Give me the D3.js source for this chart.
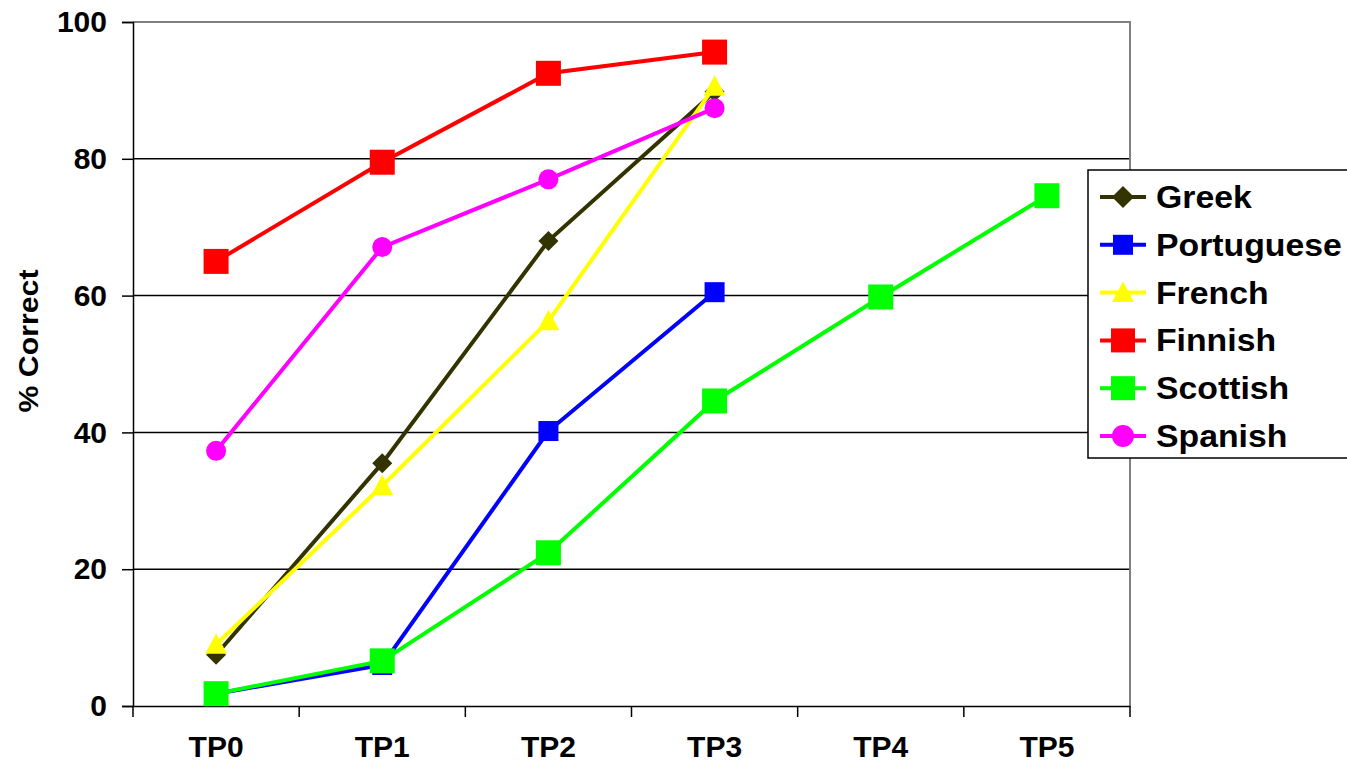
<!DOCTYPE html>
<html><head><meta charset="utf-8">
<script src="https://cdn.jsdelivr.net/npm/d3@7"></script>
<style>body{margin:0;background:#fff}svg{display:block}text{font-family:"Liberation Sans",Arial,sans-serif;font-weight:bold}</style>
</head><body>
<svg id="c" width="1347" height="764"></svg>
<script>
const categories = ["TP0","TP1","TP2","TP3","TP4","TP5"];
const yTicks = [0,20,40,60,80,100];
const seriesNames = ["Greek","Portuguese","French","Finnish","Scottish","Spanish"];
const greek = [7.5, 35.5, 68, 89.8];
const portuguese = [1.8, 6, 40.2, 60.5];
const french = [9, 32.2, 56.3, 90.6];
const finnish = [65, 79.5, 92.5, 95.6];
const scottish = [1.8, 6.6, 22.4, 44.6, 59.8, 74.6];
const spanish = [37.3, 67.1, 77, 87.4];

const seriesValues = [greek, portuguese, french, finnish, scottish, spanish];
const colors = ["#333300","#0000ff","#ffff00","#ff0000","#00ff00","#ff00ff"];
const shapes = ["diamond","square","triangle","square","square","circle"];
const sizes = [20, 20, 22, 25, 25, 20];

const svg = d3.select("#c");
const L=133, R=1130, T=22, B=706;
const x = d3.scaleBand().domain(categories).range([L,R]);
const y = d3.scaleLinear().domain([0,100]).range([B,T]);

// gridlines
svg.append("g").selectAll("line").data(yTicks.filter(d=>d>0&&d<100)).join("line")
  .attr("x1",L).attr("x2",R).attr("y1",d=>y(d)).attr("y2",d=>y(d))
  .attr("stroke","#000").attr("stroke-width",1.5);
// plot border top/right
svg.append("path").attr("d",`M${L},${T}H${R}V${B}`).attr("fill","none").attr("stroke","#808080").attr("stroke-width",2);

// y axis
const ya = svg.append("g").attr("transform",`translate(${L},0)`)
  .call(d3.axisLeft(y).tickValues(yTicks).tickSize(11).tickPadding(15));
ya.select(".domain").attr("stroke","#000").attr("stroke-width",1.5);
ya.selectAll(".tick line").attr("stroke","#000").attr("stroke-width",1.5);
ya.selectAll("text").attr("font-size",30).attr("fill","#000").attr("font-family","Liberation Sans, Arial, sans-serif").attr("font-weight","bold");

// x axis
const xa = svg.append("g").attr("transform",`translate(0,${B})`)
  .call(d3.axisBottom(x).tickSize(0).tickPadding(30));
xa.select(".domain").attr("stroke","#000").attr("stroke-width",1.5);
xa.selectAll("text").attr("font-size",30).attr("fill","#000").attr("font-family","Liberation Sans, Arial, sans-serif").attr("font-weight","bold");
const bounds = categories.map(c=>x(c)).concat([R]);
svg.append("g").selectAll("line").data(bounds).join("line")
  .attr("x1",d=>d).attr("x2",d=>d).attr("y1",B).attr("y2",B+11)
  .attr("stroke","#000").attr("stroke-width",1.5);

// y title
svg.append("text").attr("transform","translate(38,341) rotate(-90)")
  .attr("text-anchor","middle").attr("font-size",28).attr("fill","#000")
  .attr("textLength",143).attr("lengthAdjust","spacingAndGlyphs").text("% Correct");

function marker(g, shape, size, color){
  const h=size/2;
  if(shape==="square") g.append("rect").attr("x",-h).attr("y",-h).attr("width",size).attr("height",size).attr("fill",color);
  else if(shape==="diamond") g.append("path").attr("d",`M0,${-h}L${h},0L0,${h}L${-h},0Z`).attr("fill",color);
  else if(shape==="triangle") g.append("path").attr("d",`M0,${-h}L${h},${h*0.85}L${-h},${h*0.85}Z`).attr("fill",color);
  else g.append("circle").attr("r",h).attr("fill",color);
}

const line = d3.line().x((d,i)=>x(categories[i])+x.bandwidth()/2).y(d=>y(d));
seriesValues.forEach((vals,si)=>{
  const g = svg.append("g");
  g.append("path").attr("d",line(vals)).attr("fill","none").attr("stroke",colors[si]).attr("stroke-width",4);
  vals.forEach((v,i)=>{
    const m = g.append("g").attr("transform",`translate(${x(categories[i])+x.bandwidth()/2},${y(v)})`);
    marker(m, shapes[si], sizes[si], colors[si]);
  });
});

// legend
const lg = svg.append("g");
lg.append("rect").attr("x",1088).attr("y",170).attr("width",262).attr("height",288)
  .attr("fill","#fff").attr("stroke","#000").attr("stroke-width",1.5);
seriesNames.forEach((n,i)=>{
  const cy = 197 + i*47.8;
  lg.append("line").attr("x1",1100).attr("x2",1146).attr("y1",cy).attr("y2",cy).attr("stroke",colors[i]).attr("stroke-width",4);
  const m = lg.append("g").attr("transform",`translate(1123,${cy})`);
  marker(m, shapes[i], shapes[i]==="square"? (i===1?20:24) : 22, colors[i]);
  lg.append("text").attr("x",1156).attr("y",cy+11).attr("font-size",31).attr("fill","#000")
    .attr("transform",`translate(1156,0) scale(1.09,1) translate(-1156,0)`).text(n);
});
</script>
</body></html>
